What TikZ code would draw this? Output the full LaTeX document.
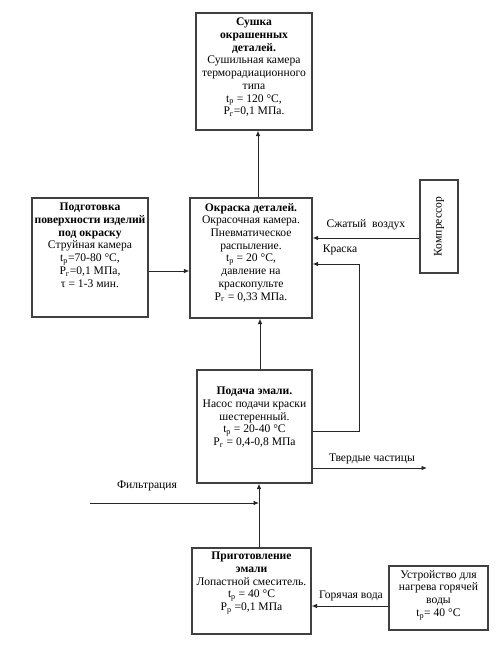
\documentclass[tikz,border=0pt]{standalone}
\usepackage{fontspec}
\setmainfont{Liberation Serif}
\usetikzlibrary{arrows.meta,calc}
\begin{document}
\begin{tikzpicture}[x=1pt,y=-1pt,
  box/.style={draw=black!75,line width=1.1pt,inner sep=0pt},
  txt/.style={align=center,font=\fontsize{11.6}{12.7}\selectfont,inner sep=0pt,anchor=north},
  lbl/.style={font=\fontsize{11.6}{12.7}\selectfont,inner sep=0pt},
  conn/.style={draw=black!85,line width=0.9pt},
  arr/.style={conn,-{Latex[length=5.5pt,width=4.5pt]}}]
\useasboundingbox (0,0) rectangle (503,657);
% boxes
\node[box,minimum width=116,minimum height=117] (dry) at (254,71.5) {};
\node[box,minimum width=116,minimum height=119] (prep) at (90,257.5) {};
\node[box,minimum width=122,minimum height=120] (paint) at (251,258) {};
\node[box,minimum width=38,minimum height=93] (comp) at (439,226.5) {};
\node[box,minimum width=115,minimum height=113] (pump) at (254.5,426.5) {};
\node[box,minimum width=119,minimum height=86] (mix) at (251.5,591) {};
\node[box,minimum width=99,minimum height=64] (heat) at (438.5,598) {};
% texts
\node[txt] (drytxt) at (254,18) {\textbf{Сушка}\\\textbf{окрашенных}\\\textbf{деталей.}\\Сушильная камера\\терморадиационного\\типа\\t\textsubscript{р} = 120 °C,\\P\textsubscript{г}=0,1 МПа.};
\node[txt] (preptxt) at (90,203) {\textbf{Подготовка}\\\textbf{поверхности изделий}\\\textbf{под окраску}\\Струйная камера\\t\textsubscript{р}=70-80 °C,\\P\textsubscript{г}=0,1 МПа,\\τ = 1-3 мин.};
\node[txt] (painttxt) at (251,203) {\textbf{Окраска деталей.}\\Окрасочная камера.\\Пневматическое\\распыление.\\t\textsubscript{р} = 20 °C,\\давление на\\краскопульте\\P\textsubscript{г} = 0,33 МПа.};
\node[lbl,rotate=90] (comptxt) at (439,226.5) {Компрессор};
\node[txt] (pumptxt) at (254.5,387) {\textbf{Подача эмали.}\\Насос подачи краски\\шестеренный.\\t\textsubscript{р} = 20-40 °C\\P\textsubscript{г} = 0,4-0,8 МПа};
\node[txt] (mixtxt) at (251.5,552) {\textbf{Приготовление}\\\textbf{эмали}\\Лопастной смеситель.\\t\textsubscript{р} = 40 °C\\P\textsubscript{р} =0,1 МПа};
\node[txt] (heattxt) at (438.5,570) {Устройство для\\нагрева горячей\\воды\\t\textsubscript{р}= 40 °C};
% coordinates
\coordinate (xa) at (258,0);
\coordinate (xb) at (260,0);
\coordinate (xk) at (359,0);
\coordinate (yprep) at (0,271);
\coordinate (yair) at (0,238);
\coordinate (ykr) at (0,264);
\coordinate (yret) at (0,431);
\coordinate (ysol) at (0,468);
\coordinate (solend) at (427,468);
\coordinate (filtstart) at (90,503);
\coordinate (xm) at (259,0);
\coordinate (yhot) at (0,606);
% connectors
\draw[arr] (paint.north -| xa) -- (dry.south -| xa);
\draw[arr] (prep.east |- yprep) -- (paint.west |- yprep);
\draw[arr] (comp.west |- yair) -- (paint.east |- yair);
\draw[arr] (pump.east |- yret) -| (xk |- ykr) -- (paint.east |- ykr);
\draw[arr] (pump.north -| xb) -- (paint.south -| xb);
\draw[arr] (pump.east |- ysol) -- (solend);
\draw[arr] (mix.north -| xm) -- (pump.south -| xm);
\draw[arr] (filtstart) -- (filtstart -| xm);
\draw[arr] (heat.west |- yhot) -- (mix.east |- yhot);
% labels
\node[lbl] (lair) at (366,225) {Сжатый\ \ воздух};
\node[lbl] (lkr) at (340,250) {Краска};
\node[lbl] (lsol) at (372,459) {Твердые частицы};
\node[lbl] (lfilt) at (147,486) {Фильтрация};
\node[lbl] (lhot) at (351,596) {Горячая вода};
\end{tikzpicture}
\end{document}
